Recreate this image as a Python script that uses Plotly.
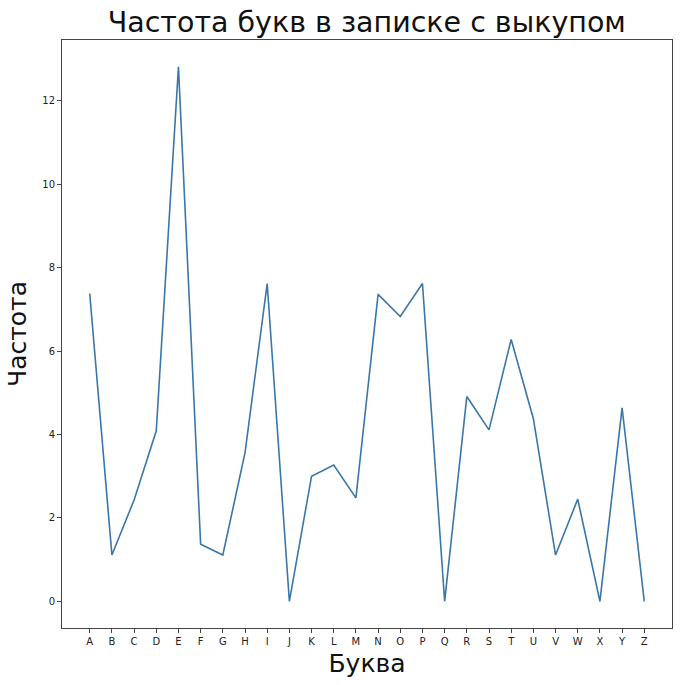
import plotly.graph_objects as go

# letters and their frequency in the ransom note
letters = list("ABCDEFGHIJKLMNOPQRSTUVWXYZ")
freq = [7.38, 1.11, 2.43, 4.09, 12.82, 1.37, 1.11, 3.56, 7.62, 0.0,
        3.0, 3.27, 2.48, 7.36, 6.83, 7.62, 0.0, 4.91, 4.11, 6.28,
        4.38, 1.11, 2.45, 0.0, 4.64, 0.0]
y_ticks = [0, 2, 4, 6, 8, 10, 12]

fig = go.Figure()
fig.add_trace(go.Scatter(x=list(range(len(letters))), y=freq, mode='lines',
                         line=dict(color='#3a77a8', width=1.6)))

axis_style = dict(showline=True, linecolor='#444', linewidth=1, mirror=True,
                  ticks='outside', ticklen=4, tickcolor='#444', showgrid=False,
                  zeroline=False, automargin=False, tickfont=dict(size=10, color='#222'))

fig.update_xaxes(range=[-1.25, 26.25], tickvals=list(range(len(letters))), ticktext=letters,
                 title=dict(text='Буква', font=dict(size=25, color='#111'), standoff=8),
                 **axis_style)
fig.update_yaxes(range=[-0.64, 13.46], tickvals=y_ticks,
                 title=dict(text='Частота', font=dict(size=25, color='#111'), standoff=8),
                 **axis_style)

fig.update_layout(
    width=683, height=685,
    title=dict(text='Частота букв в записке с выкупом', x=0.537, xanchor='center',
               y=0.968, yanchor='middle', font=dict(size=28.5, color='#111')),
    font=dict(family='DejaVu Sans'),
    plot_bgcolor='white', paper_bgcolor='white',
    margin=dict(l=62, r=11, t=40, b=57),
    showlegend=False,
)

# drop the page's default body margin so the figure sits at the top-left corner
fig.write_html("out.html", config={'displayModeBar': False},
               post_script="document.body.style.margin='0';")
